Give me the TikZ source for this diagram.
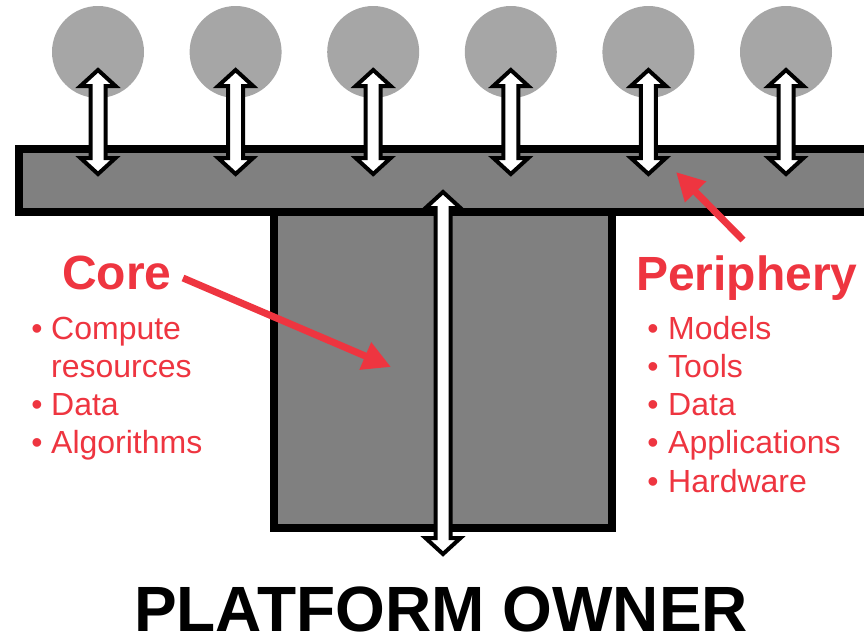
\documentclass[tikz,border=0pt]{standalone}
\usepackage{fontspec}
\setmainfont{Liberation Sans}
\usetikzlibrary{arrows.meta}
\definecolor{accent}{RGB}{238,53,64}
\definecolor{circgray}{RGB}{166,166,166}
\definecolor{boxgray}{RGB}{128,128,128}
\tikzset{
  block/.style={draw=black, fill=boxgray, line width=8pt, line join=miter},
  peer/.style={circle, fill=circgray, minimum size=92pt, inner sep=0pt},
  dblarrow/.style={draw=black, fill=white, line width=4pt, line join=miter, miter limit=10},
  callout/.style={draw=accent, line width=7pt, -{Triangle[length=28pt,width=28pt]}},
  heading/.style={text=accent, font=\bfseries\fontsize{48}{48}\selectfont, anchor=base west, inner sep=0pt},
  item/.style={text=accent, font=\fontsize{32}{32}\selectfont, anchor=base west, inner sep=0pt},
  dot/.style={text=accent, font=\fontsize{32}{32}\selectfont, anchor=base, inner sep=0pt},
  title/.style={font=\bfseries\fontsize{64}{64}\selectfont, anchor=base, inner sep=0pt}
}
\begin{document}
\begin{tikzpicture}[x=1pt,y=-1pt]
\useasboundingbox (0,0) rectangle (864,638);
\clip (0,0) rectangle (864,638);
% core (stem) and platform bar
\path[block] (274,212) rectangle (612,527.5);
\path[block] (19,148.5) rectangle (880,212);
% central arrow to platform owner
\path[dblarrow] (443,192) -- ++(17.5,16) -- ++(-10,0) -- (450.5,538) -- ++(10,0)
  -- (443,554) -- ++(-17.5,-16) -- ++(10,0) -- (435.5,208) -- ++(-10,0) -- cycle;
% periphery participants
\foreach \i/\x in {1/98,2/235.6,3/373.2,4/510.8,5/648.4,6/786}{
  \node[peer] (p\i) at (\x,52) {};
  \path[dblarrow] (\x,70) -- ++(17.5,16) -- ++(-10,0) -- (\x+7.5,158) -- ++(10,0)
    -- (\x,174) -- ++(-17.5,-16) -- ++(10,0) -- (\x-7.5,86) -- ++(-10,0) -- cycle;
}
% labels
\node[heading] (core) at (62,289) {Core};
\node[heading] (periphery) at (636,290) {Periphery};
\foreach \t/\y in {Compute/339,resources/377,Data/415,Algorithms/453}{
  \node[item] at (51,\y) {\t};
}
\foreach \y in {339,415,453}{ \node[dot] at (37,\y) {•}; }
\foreach \t/\y in {Models/339,Tools/377,Data/415,Applications/453,Hardware/492}{
  \node[item] at (668,\y) {\t};
  \node[dot] at (653,\y) {•};
}
% callout arrows
\coordinate (coretail) at (183,278);
\coordinate (coretip) at (391,367);
\coordinate (pertail) at (743,240);
\coordinate (pertip) at (676,172);
\draw[callout] (coretail) -- (coretip);
\draw[callout] (pertail) -- (pertip);
\node[title] (owner) at (441,631) {PLATFORM OWNER};
\end{tikzpicture}
\end{document}
